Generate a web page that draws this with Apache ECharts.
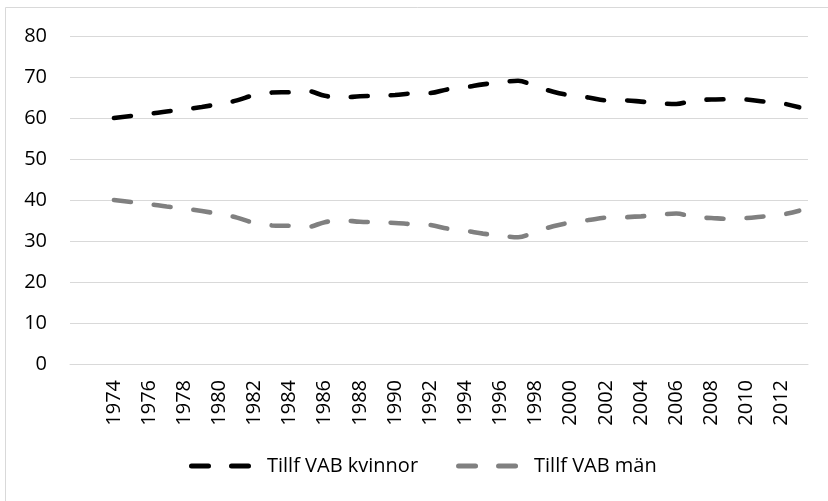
<!DOCTYPE html>
<html>
<head>
<meta charset="utf-8">
<script src="https://cdn.jsdelivr.net/npm/echarts@6/dist/echarts.min.js"></script>
<style>
  html, body { margin: 0; padding: 0; background: #fff; }
  #chart { width: 828px; height: 501px; }
</style>
</head>
<body>
<div id="chart"></div>
<script>
// år 1974-2013
const years = [
  1974, 1975, 1976, 1977, 1978, 1979, 1980, 1981, 1982, 1983,
  1984, 1985, 1986, 1987, 1988, 1989, 1990, 1991, 1992, 1993,
  1994, 1995, 1996, 1997, 1998, 1999, 2000, 2001, 2002, 2003,
  2004, 2005, 2006, 2007, 2008, 2009, 2010, 2011, 2012, 2013
]
// andel (%) kvinnor
const kvinnor = [
  60.0, 60.5, 61.0, 61.6, 62.1, 62.7, 63.4, 64.3, 65.6, 66.2,
  66.3, 66.6, 65.4, 65.0, 65.3, 65.4, 65.6, 66.0, 66.1, 67.0,
  67.5, 68.2, 68.7, 69.1, 67.7, 66.4, 65.5, 65.0, 64.3, 64.3,
  64.0, 63.6, 63.4, 64.3, 64.5, 64.6, 64.5, 64.0, 63.6, 62.6
]
// andel (%) män
const man = [
  40.0, 39.5, 39.0, 38.4, 37.9, 37.3, 36.6, 35.7, 34.4, 33.8,
  33.7, 33.4, 34.6, 35.0, 34.7, 34.6, 34.4, 34.1, 33.9, 33.0,
  32.5, 31.8, 31.3, 30.9, 32.3, 33.6, 34.5, 35.1, 35.7, 35.8,
  36.0, 36.4, 36.7, 35.8, 35.6, 35.4, 35.6, 36.0, 36.4, 37.4
]
// etiketter på x-axeln
const yearLabels = [
  1974, 1976, 1978, 1980, 1982, 1984, 1986, 1988, 1990, 1992,
  1994, 1996, 1998, 2000, 2002, 2004, 2006, 2008, 2010, 2012
]
const seriesNames = ['Tillf VAB kvinnor', 'Tillf VAB män']

const font = "'Open Sans', 'Noto Sans', sans-serif"
const gridColor = '#d9d9d9'
// två streckade segment med rundade ändar, som i Excel-legenden
const dashIcon = 'path://M2.5,0 h17 a2.5,2.5 0 0 1 0,5 h-17 a2.5,2.5 0 0 1 0,-5z ' +
  'M42.5,0 h17 a2.5,2.5 0 0 1 0,5 h-17 a2.5,2.5 0 0 1 0,-5z'

const chart = echarts.init(document.getElementById('chart'))

function makeLine(name, values, color) {
  return {
    name: name,
    type: 'line',
    smooth: 0.35,
    symbol: 'none',
    animation: false,
    data: years.map((y, i) => [y, values[i]]),
    lineStyle: {
      color: color,
      width: 4.6,
      type: [17, 23],
      cap: 'round'
    },
    itemStyle: { color: color }
  }
}

const option = {
  backgroundColor: '#fff',
  textStyle: { fontFamily: font },
  graphic: [
    {
      type: 'rect',
      silent: true,
      shape: { x: 5.5, y: 7.5, width: 900, height: 600 },
      style: { fill: 'none', stroke: gridColor, lineWidth: 1 }
    }
  ],
  grid: { left: 70, right: 20, top: 36, bottom: 137, containLabel: false },
  legend: {
    bottom: 20,
    left: 184,
    icon: dashIcon,
    itemWidth: 62,
    itemHeight: 5,
    itemGap: 38,
    textStyle: {
      color: '#000',
      fontSize: 20,
      fontFamily: font,
      padding: [0, 0, 0, 11]
    },
    data: seriesNames
  },
  xAxis: {
    type: 'value',
    min: 1971.5,
    max: 2013.5,
    splitLine: { show: false },
    axisTick: { show: false },
    axisLine: { show: true, lineStyle: { color: gridColor, width: 1 } },
    axisLabel: {
      customValues: yearLabels,
      rotate: 90,
      margin: 16,
      color: '#000',
      fontSize: 20,
      fontFamily: font,
      formatter: v => String(v)
    }
  },
  yAxis: {
    type: 'value',
    min: 0,
    max: 80,
    interval: 10,
    axisLine: { show: false },
    axisTick: { show: false },
    splitLine: { lineStyle: { color: gridColor, width: 1 } },
    axisLabel: { margin: 23, color: '#000', fontSize: 20, fontFamily: font }
  },
  series: [
    makeLine(seriesNames[0], kvinnor, '#000000'),
    makeLine(seriesNames[1], man, '#808080')
  ]
}

chart.setOption(option)
</script>
</body>
</html>
